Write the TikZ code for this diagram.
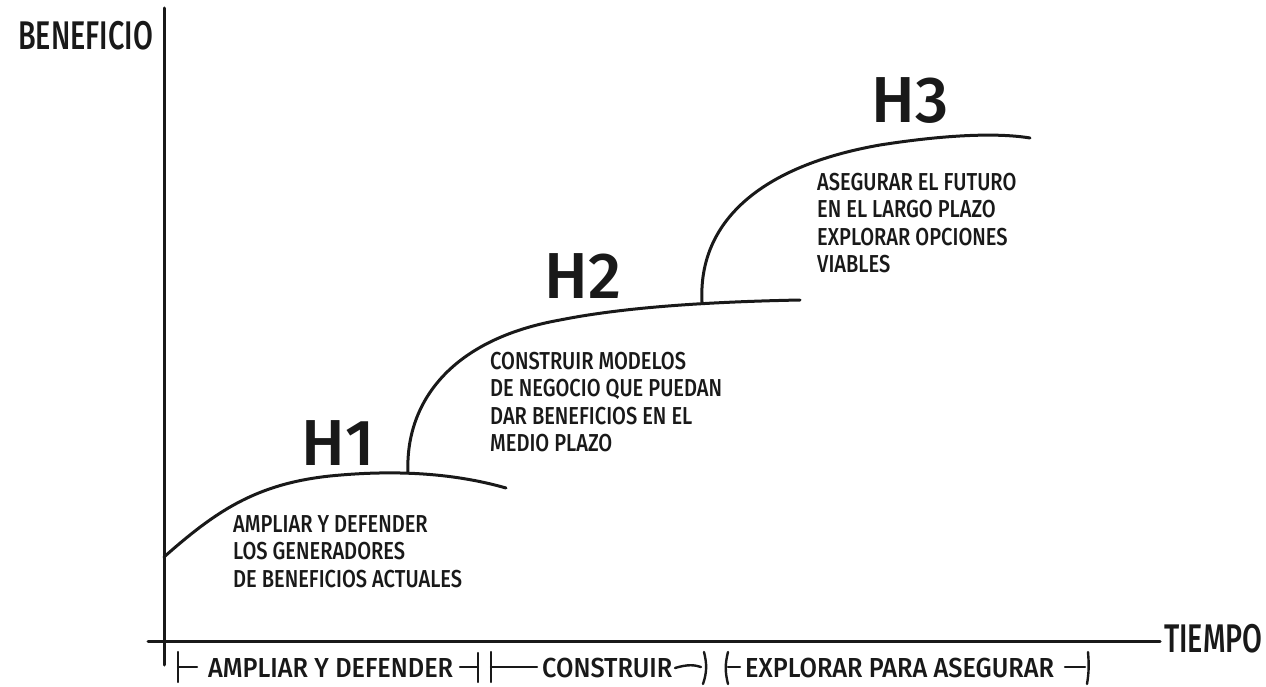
\documentclass[tikz,border=0pt]{standalone}
\usepackage{fontspec}
\setmainfont{Fira Sans}[UprightFont=* Medium]
\newfontfamily\bodyfont{Fira Sans}[UprightFont=* Medium, FakeStretch=0.82]
\newfontfamily\barfont{Fira Sans}[UprightFont=* Medium, FakeStretch=0.92]
\newfontfamily\axisfont{Fira Sans}[UprightFont=* Medium, FakeStretch=0.72]
\newfontfamily\hfont{Fira Sans}[UprightFont=* Medium]
\tikzset{
  ink/.style={line width=3pt, line cap=round, line join=round, black!90},
  thin ink/.style={line width=2.4pt, line cap=round, black!90},
  axislabel/.style={inner sep=0pt, font=\axisfont\fontsize{40}{44}\selectfont, text=black!90},
  horizon/.style={inner sep=0pt, font=\hfont\fontsize{65}{70}\selectfont, text=black!90},
  note/.style={inner sep=0pt, align=left, anchor=north west,
               font=\bodyfont\fontsize{24.5}{27.5}\selectfont, text=black!90},
  phase/.style={inner sep=0pt, anchor=base west,
                font=\barfont\fontsize{27.5}{30}\selectfont, text=black!90}
}
\begin{document}
\begin{tikzpicture}[x=1pt, y=-1pt]
  \useasboundingbox (0,0) rectangle (1266,687);

  % axes
  \coordinate (ytop) at (164,8);
  \coordinate (ybot) at (164,665);
  \coordinate (xleft) at (148,641);
  \coordinate (xright) at (1160,641);
  \draw[ink] (ytop) -- (ybot);
  \draw[ink] (xleft) -- (xright);
  \node[axislabel, anchor=base west] (ylab) at (18,50) {BENEFICIO};
  \node[axislabel, anchor=base west] (xlab) at (1164,652) {TIEMPO};

  % horizon curves
  \coordinate (s1) at (164,557);
  \coordinate (j12) at (408,473);
  \coordinate (e1) at (506,488);
  \coordinate (j23) at (702,302);
  \coordinate (e2) at (800,300);
  \coordinate (e3) at (1030,138);
  \draw[ink] (s1) .. controls (215,512) and (255,484) .. (330,476)
                  .. controls (390,470) and (450,472) .. (e1);
  \draw[ink] (j12) .. controls (405,405) and (448,340) .. (560,320)
                   .. controls (620,308) and (700,302) .. (e2);
  \draw[ink] (j23) .. controls (698,222) and (760,166) .. (880,145)
                   .. controls (950,134) and (1000,133) .. (e3);

  % horizon labels
  \node[horizon, anchor=base] (h1) at (338,465) {H1};
  \node[horizon, anchor=base] (h2) at (583,298) {H2};
  \node[horizon, anchor=base] (h3) at (910,123) {H3};

  % descriptions
  \node[note] (t1) at (233,515) {AMPLIAR Y DEFENDER\\LOS GENERADORES\\DE BENEFICIOS ACTUALES};
  \node[note] (t2) at (490,352) {CONSTRUIR MODELOS\\DE NEGOCIO QUE PUEDAN\\DAR BENEFICIOS EN EL\\MEDIO PLAZO};
  \node[note] (t3) at (817,173) {ASEGURAR EL FUTURO\\EN EL LARGO PLAZO\\EXPLORAR OPCIONES\\VIABLES};

  % phase brackets along the time axis
  \node[phase] (p1) at (208,677) {AMPLIAR Y DEFENDER};
  \node[phase] (p2) at (542,677) {CONSTRUIR};
  \node[phase] (p3) at (745,677) {EXPLORAR PARA ASEGURAR};

  \draw[thin ink] (178,652) -- (178,682);
  \draw[thin ink] (178,667) -- (197,667);
  \draw[thin ink] (460,667) -- (478,667);
  \draw[thin ink] (478,653) -- (478,682);

  \draw[thin ink] (491,652) -- (491,682);
  \draw[thin ink] (491,667) -- (537,667);
  \draw[thin ink] (675,668) .. controls (688,664) and (695,665) .. (701,667);
  \draw[thin ink] (704,652) .. controls (707,664) and (707,672) .. (703,684);

  \draw[thin ink] (728,652) .. controls (725,664) and (725,672) .. (728,684);
  \draw[thin ink] (728,667) -- (740,667);
  \draw[thin ink] (1065,667) -- (1085,667);
  \draw[thin ink] (1088,652) .. controls (1089,664) and (1089,672) .. (1087,684);
\end{tikzpicture}
\end{document}
